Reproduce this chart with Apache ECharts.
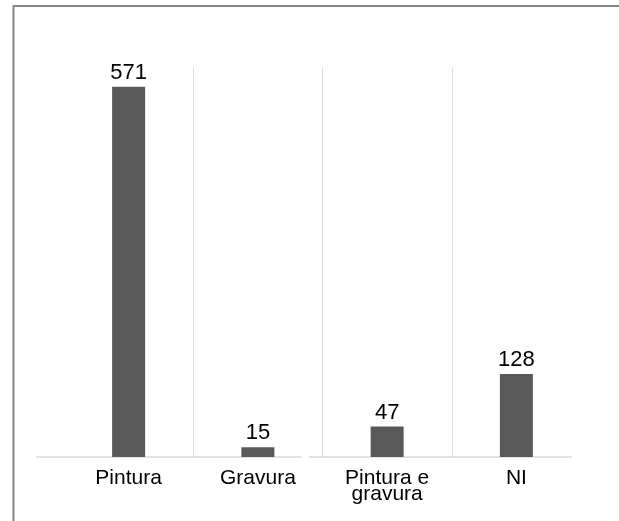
<!DOCTYPE html>
<html>
<head>
<meta charset="utf-8">
<script src="https://cdn.jsdelivr.net/npm/echarts@6/dist/echarts.min.js"></script>
<style>
  html, body { margin: 0; padding: 0; background: #fff; }
  #chart { width: 619px; height: 521px; }
</style>
</head>
<body>
<div id="chart"></div>
<script>
// Technique counts per category
const categories = ['Pintura', 'Gravura', 'Pintura e\ngravura', 'NI'];
const counts = [571, 15, 47, 128];
const valueMax = 600;

const FONT = '"Liberation Sans", Arial, sans-serif';

const chart = echarts.init(document.getElementById('chart'), null, { renderer: 'canvas' });

chart.setOption({
  backgroundColor: '#ffffff',
  animation: false,
  grid: { left: 64, right: 38, top: 68, bottom: 64 },
  xAxis: {
    type: 'category',
    data: categories,
    axisLine: { show: false },
    axisTick: { show: false },
    axisLabel: {
      color: '#000',
      fontFamily: FONT,
      fontSize: 21,
      lineHeight: 16,
      margin: 13
    },
    splitLine: {
      show: true,
      showMinLine: false,
      showMaxLine: false,
      lineStyle: { color: '#dcdcdc', width: 1 }
    }
  },
  yAxis: {
    type: 'value',
    min: 0,
    max: valueMax,
    show: false,
    splitLine: { show: false }
  },
  series: [{
    type: 'bar',
    data: counts,
    barWidth: 33,
    itemStyle: { color: '#595959' },
    label: {
      show: true,
      position: 'top',
      distance: 3,
      color: '#000',
      fontFamily: FONT,
      fontSize: 22
    }
  }],
  graphic: [
    // outer frame (left and top edges visible)
    {
      type: 'rect',
      shape: { x: 13.5, y: 6, width: 700, height: 600 },
      style: { fill: 'none', stroke: '#858585', lineWidth: 2 },
      silent: true
    },
    // baseline
    {
      type: 'line',
      shape: { x1: 36, y1: 457, x2: 302, y2: 457 },
      style: { stroke: '#d9d9d9', lineWidth: 1.5 },
      silent: true
    },
    {
      type: 'line',
      shape: { x1: 309, y1: 457, x2: 572, y2: 457 },
      style: { stroke: '#d9d9d9', lineWidth: 1.5 },
      silent: true
    }
  ]
});
</script>
</body>
</html>
